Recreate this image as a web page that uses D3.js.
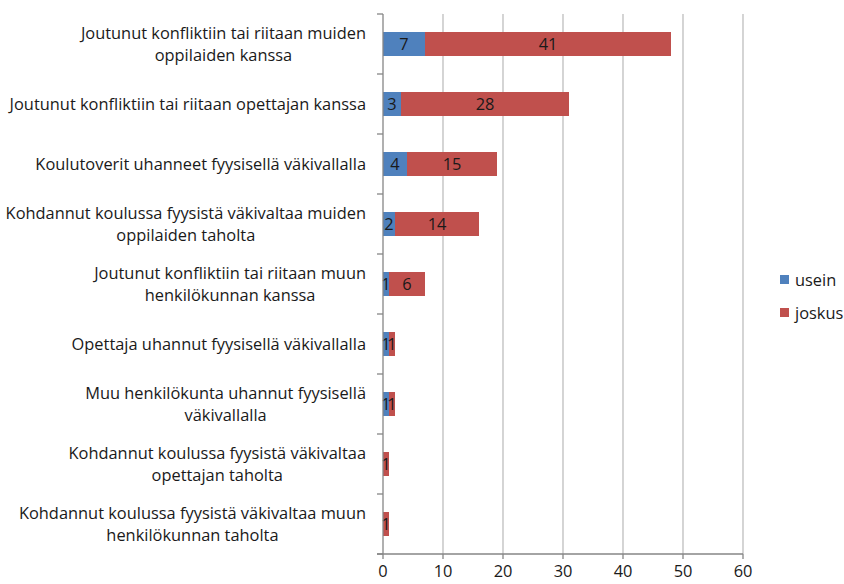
<!DOCTYPE html>
<html><head><meta charset="utf-8">
<script src="https://cdn.jsdelivr.net/npm/d3@7/dist/d3.min.js"></script>
<style>body{margin:0;background:#fff}svg{display:block}text{font-family:"Open Sans",sans-serif}</style>
</head><body>
<script>
const categories = [
  "Joutunut konfliktiin tai riitaan muiden|oppilaiden kanssa",
  "Joutunut konfliktiin tai riitaan opettajan kanssa",
  "Koulutoverit uhanneet fyysisellä väkivallalla",
  "Kohdannut koulussa fyysistä väkivaltaa muiden|oppilaiden taholta",
  "Joutunut konfliktiin tai riitaan muun|henkilökunnan kanssa",
  "Opettaja uhannut fyysisellä väkivallalla",
  "Muu henkilökunta uhannut fyysisellä|väkivallalla",
  "Kohdannut koulussa fyysistä väkivaltaa|opettajan taholta",
  "Kohdannut koulussa fyysistä väkivaltaa muun|henkilökunnan taholta"
];
const usein  = [7, 3, 4, 2, 1, 1, 1, 0, 0];
const joskus = [41, 28, 15, 14, 6, 1, 1, 1, 1];
const seriesNames = ["usein", "joskus"];
const colors = ["#4F81BD", "#C0504D"];
const xTicks = [0, 10, 20, 30, 40, 50, 60];

const W = 844, H = 584;
const m = {left: 383, right: 101, top: 14, bottom: 30};
const FS = 16.4;
const svg = d3.select("body").append("svg").attr("width", W).attr("height", H);

const x = d3.scaleLinear().domain([0, 60]).range([m.left, W - m.right]);
const y = d3.scaleBand().domain(d3.range(categories.length)).range([m.top, H - m.bottom]).paddingInner(0.6).paddingOuter(0.3);
const yb = d3.scaleBand().domain(d3.range(categories.length)).range([m.top, H - m.bottom]);

svg.append("g").selectAll("line").data(xTicks.slice(1)).join("line")
  .attr("x1", d => x(d)).attr("x2", d => x(d))
  .attr("y1", m.top).attr("y2", H - m.bottom)
  .attr("stroke", "#BEBEBE").attr("stroke-width", 1.3);

const data = categories.map((c, i) => ({i, vals: [usein[i], joskus[i]]}));
const stackData = data.map(d => {
  let acc = 0;
  return d.vals.map((v, k) => { const s = {i: d.i, k, v, x0: acc, x1: acc + v}; acc += v; return s; });
}).flat().filter(d => d.v > 0);

svg.append("g").selectAll("rect").data(stackData).join("rect")
  .attr("x", d => x(d.x0)).attr("width", d => x(d.x1) - x(d.x0))
  .attr("y", d => y(d.i)).attr("height", y.bandwidth())
  .attr("fill", d => colors[d.k]);

svg.append("g").selectAll("text").data(stackData).join("text")
  .attr("x", d => (x(d.x0) + x(d.x1)) / 2)
  .attr("y", d => y(d.i) + y.bandwidth() / 2)
  .attr("dy", "0.36em").attr("text-anchor", "middle")
  .attr("font-size", FS).attr("fill", "#1a1a1a")
  .text(d => d.v);

const axisColor = "#868686";
svg.append("line").attr("x1", x(0)).attr("x2", x(0)).attr("y1", m.top).attr("y2", H - m.bottom)
  .attr("stroke", axisColor).attr("stroke-width", 1.3);
svg.append("line").attr("x1", x(0) - 6).attr("x2", x(60)).attr("y1", H - m.bottom).attr("y2", H - m.bottom)
  .attr("stroke", axisColor).attr("stroke-width", 1.3);
svg.append("g").selectAll("line").data(d3.range(categories.length + 1)).join("line")
  .attr("x1", x(0) - 6).attr("x2", x(0))
  .attr("y1", d => m.top + d * yb.step()).attr("y2", d => m.top + d * yb.step())
  .attr("stroke", axisColor).attr("stroke-width", 1.3);
svg.append("g").selectAll("line").data(xTicks).join("line")
  .attr("x1", d => x(d)).attr("x2", d => x(d))
  .attr("y1", H - m.bottom).attr("y2", H - m.bottom + 5)
  .attr("stroke", axisColor).attr("stroke-width", 1.3);
svg.append("g").selectAll("text").data(xTicks).join("text")
  .attr("x", d => x(d)).attr("y", H - m.bottom + 23)
  .attr("text-anchor", "middle").attr("font-size", FS).attr("fill", "#1a1a1a")
  .text(d => d);

const labelRight = 366;
const lg = svg.append("g");
categories.forEach((c, i) => {
  const lines = c.split("|");
  const cy = yb(i) + yb.bandwidth() / 2;
  const g = lg.append("g");
  const lh = 21.5;
  const texts = lines.map((t, j) => g.append("text")
    .attr("y", cy + (j - (lines.length - 1) / 2) * lh)
    .attr("dy", "0.36em").attr("font-size", FS).attr("fill", "#1a1a1a")
    .attr("text-anchor", "middle").text(t));
  const widths = texts.map(t => t.node().getComputedTextLength());
  const maxW = Math.max(...widths);
  texts.forEach(t => t.attr("x", labelRight - maxW / 2));
});

const leg = svg.append("g");
seriesNames.forEach((s, k) => {
  const ly = 280 + k * 33;
  leg.append("rect").attr("x", 780).attr("y", ly - 5).attr("width", 9).attr("height", 9).attr("fill", colors[k]);
  leg.append("text").attr("x", 795).attr("y", ly).attr("dy", "0.36em")
    .attr("font-size", FS).attr("fill", "#1a1a1a").text(s);
});
</script>
</body></html>
